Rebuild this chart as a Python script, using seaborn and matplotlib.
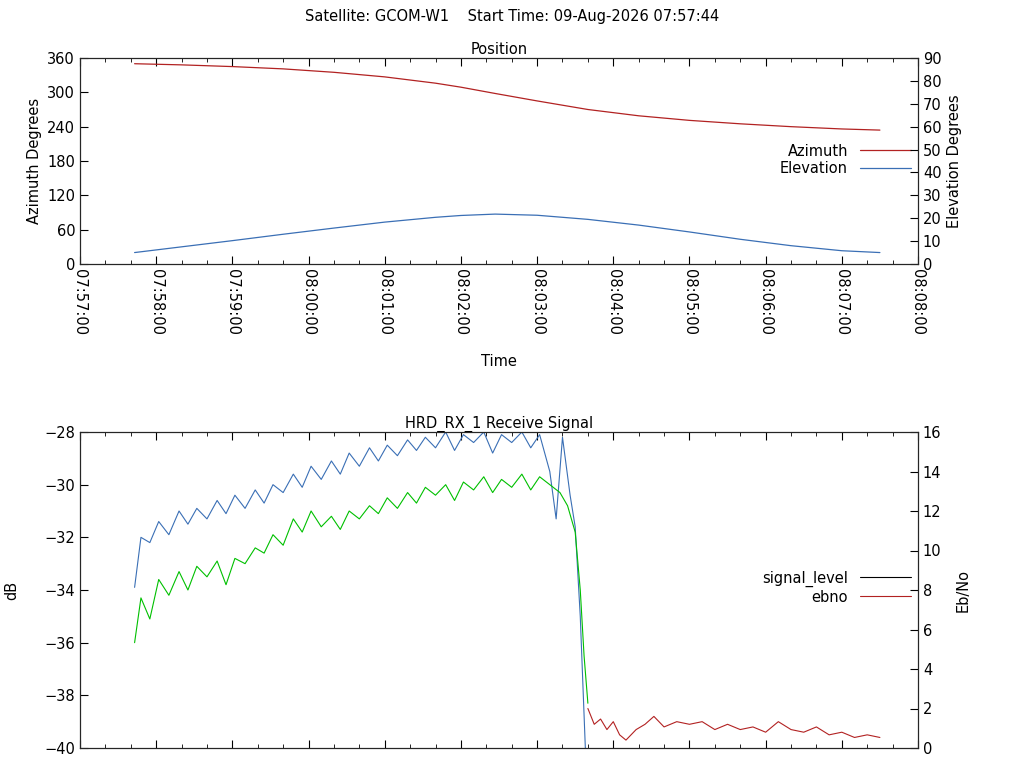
import matplotlib
matplotlib.use("Agg")
import matplotlib.pyplot as plt
import seaborn as sns
from matplotlib.ticker import MultipleLocator, FuncFormatter

# seconds after 07:57:00
pos_t = [43, 80, 120, 160, 200, 240, 280, 300, 327, 360, 400, 440, 480, 520, 560, 600, 630]
azimuth = [350, 348, 345, 341, 335, 327, 316, 309, 298, 285, 270, 259, 251, 245, 240, 236, 234]
elevation = [5, 7.5, 10.2, 13, 15.7, 18.3, 20.4, 21.2, 21.8, 21.3, 19.5, 17, 14, 10.8, 8, 5.8, 5]

blue_t = [43, 48, 55, 62, 70, 78, 85, 92, 100, 108, 115, 122, 130, 138, 145, 152, 160, 168, 175,
          182, 190, 198, 205, 212, 220, 228, 235, 242, 250, 258, 265, 272, 280, 288, 295, 302,
          310, 318, 325, 332, 340, 348, 355, 362, 370, 375, 380, 386, 390, 394, 398]
blue = [-33.9, -32.0, -32.2, -31.4, -31.9, -31.0, -31.5, -30.9, -31.3, -30.6, -31.1, -30.4, -30.9,
        -30.2, -30.7, -30.0, -30.3, -29.6, -30.1, -29.3, -29.8, -29.1, -29.6, -28.8, -29.3, -28.6,
        -29.1, -28.5, -28.9, -28.3, -28.7, -28.2, -28.6, -28.0, -28.7, -28.1, -28.4, -28.0, -28.8,
        -28.1, -28.4, -28.0, -28.6, -28.1, -29.5, -31.3, -28.2, -30.4, -31.6, -35.0, -40.0]
green_t = [43, 48, 55, 62, 70, 78, 85, 92, 100, 108, 115, 122, 130, 138, 145, 152, 160, 168, 175,
           182, 190, 198, 205, 212, 220, 228, 235, 242, 250, 258, 265, 272, 280, 288, 295, 302,
           310, 318, 325, 332, 340, 348, 355, 362, 370, 378, 384, 390, 394, 397, 400]
green = [-36.0, -34.3, -35.1, -33.6, -34.2, -33.3, -34.0, -33.1, -33.5, -32.9, -33.8, -32.8, -33.0,
         -32.4, -32.6, -31.9, -32.3, -31.3, -31.8, -31.0, -31.6, -31.2, -31.7, -31.0, -31.3, -30.8,
         -31.1, -30.5, -30.9, -30.3, -30.7, -30.1, -30.4, -30.0, -30.6, -29.9, -30.2, -29.7, -30.3,
         -29.8, -30.1, -29.6, -30.2, -29.7, -30.0, -30.3, -30.8, -31.8, -34.0, -36.5, -38.3]
red_t = [400, 405, 410, 415, 420, 425, 430, 438, 445, 452, 460, 470, 480, 490, 500, 510, 520, 530,
         540, 550, 560, 570, 580, 590, 600, 610, 620, 630]
red = [-38.5, -39.1, -38.9, -39.3, -39.0, -39.5, -39.7, -39.3, -39.1, -38.8, -39.2, -39.0, -39.1,
       -39.0, -39.3, -39.1, -39.3, -39.2, -39.4, -39.0, -39.3, -39.4, -39.2, -39.5, -39.4, -39.6,
       -39.5, -39.6]

sns.set_style("white")
plt.rcParams["font.family"] = ["DejaVu Sans"]
plt.rcParams["font.size"] = 10.5
plt.rcParams["text.color"] = "black"
plt.rcParams["axes.labelcolor"] = "black"
plt.rcParams["xtick.color"] = "black"
plt.rcParams["ytick.color"] = "black"

def fmt(x, _):
    s = int(round(x)) + 7 * 3600 + 57 * 60
    return f"{s//3600:02d}:{s%3600//60:02d}:{s%60:02d}"

def ticks(ax):
    ax.set_xlim(0, 660)
    ax.xaxis.set_major_locator(MultipleLocator(60))
    ax.xaxis.set_minor_locator(MultipleLocator(20))
    ax.tick_params(which="both", direction="in", top=True, bottom=True, left=True)
    ax.tick_params(which="major", length=6)
    ax.tick_params(which="minor", length=3)
    for s in ax.spines.values():
        s.set_color("black")

def rticks(ax):
    ax.tick_params(direction="in", right=True, length=6)

fig = plt.figure(figsize=(10.24, 7.68), dpi=100)
ax1 = fig.add_axes([80/1024, 1-264/768, 838/1024, 206/768])
ax2 = fig.add_axes([80/1024, 1-748/768, 838/1024, 316/768])
fig.text(0.5, 1-17/768, "Satellite: GCOM-W1    Start Time: 09-Aug-2026 07:57:44", ha="center", va="center")

# top panel
sns.lineplot(x=pos_t, y=azimuth, ax=ax1, color="#b22222", lw=0.9, legend=False)
ax1r = ax1.twinx()
sns.lineplot(x=pos_t, y=elevation, ax=ax1r, color="#3a6fb5", lw=0.9, legend=False)
ticks(ax1)
ax1.set_ylim(0, 360)
ax1.set_yticks(range(0, 361, 60))
ax1r.set_ylim(0, 90)
ax1r.set_yticks(range(0, 91, 10))
rticks(ax1r)
ax1.xaxis.set_major_formatter(FuncFormatter(fmt))
plt.setp(ax1.get_xticklabels(), rotation=270)
ax1.set_title("Position", fontsize=10.5, pad=3)
ax1.set_ylabel("Azimuth Degrees")
ax1r.set_ylabel("Elevation Degrees")
ax1.set_xlabel("Time", labelpad=14)
h = ax1.get_lines() + ax1r.get_lines()
ax1.legend(h, ["Azimuth", "Elevation"], loc="upper right", bbox_to_anchor=(1.0, 0.62),
           frameon=False, markerfirst=False, handlelength=3.5, borderpad=0, labelspacing=0.2)

# bottom panel
sns.lineplot(x=blue_t, y=blue, ax=ax2, color="#3a6fb5", lw=0.8)
sns.lineplot(x=green_t, y=green, ax=ax2, color="#00c000", lw=0.8)
sns.lineplot(x=red_t, y=red, ax=ax2, color="#b22222", lw=0.8)
ax2r = ax2.twinx()
ticks(ax2)
ax2.set_ylim(-40, -28)
ax2.set_yticks(range(-40, -27, 2))
ax2r.set_ylim(0, 16)
ax2r.set_yticks(range(0, 17, 2))
rticks(ax2r)
ax2.set_xticklabels([])
ax2.set_title("HRD_RX_1 Receive Signal", fontsize=10.5, pad=3)
ax2.set_ylabel("dB", labelpad=18)
ax2r.set_ylabel("Eb/No", labelpad=10)
l1, = ax2.plot([], [], color="black", lw=0.8)
l2, = ax2.plot([], [], color="#b22222", lw=0.8)
ax2.legend([l1, l2], ["signal_level", "ebno"], loc="upper right", bbox_to_anchor=(1.0, 0.585),
           frameon=False, markerfirst=False, handlelength=3.5, borderpad=0, labelspacing=0.2)

fig.savefig("out.png", dpi=100)
